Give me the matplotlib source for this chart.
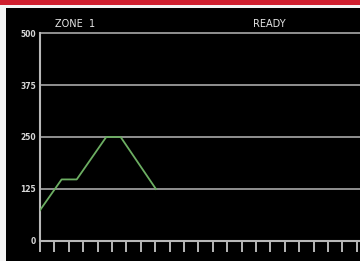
import matplotlib
matplotlib.use("Agg")
import matplotlib.pyplot as plt
from matplotlib.patches import Rectangle

# Data
time_x = [0, 1.5, 2.55, 4.6, 5.6, 8.05]
temp_y = [74, 148, 148, 250, 250, 125]
y_ticks = [0, 125, 250, 375, 500]
x_ticks = list(range(0, 23))
title_left = "ZONE  1"
title_right = "READY"

W, H = 360, 261
fig = plt.figure(figsize=(W / 100, H / 100), dpi=100, facecolor="black")

# frame decorations (red band, white strips)
fig.patches.append(Rectangle((0, 1 - 5 / H), 1, 5 / H, transform=fig.transFigure,
                             facecolor="#d01f2f", edgecolor="none", zorder=0))
fig.patches.append(Rectangle((0, 1 - 7.5 / H), 1, 2.5 / H, transform=fig.transFigure,
                             facecolor="#f4f4f4", edgecolor="none", zorder=0))
fig.patches.append(Rectangle((0, 0), 6 / W, 1 - 5 / H, transform=fig.transFigure,
                             facecolor="#f4f4f4", edgecolor="none", zorder=0))

ax = fig.add_axes([40 / W, (H - 241) / H, 1 - 40 / W, (241 - 33) / H])
ax.set_facecolor("black")
ax.set_xlim(0, (W - 40) / 14.4)
ax.set_ylim(0, 500)

grid_c = "#909090"
for v in y_ticks[1:]:
    ax.axhline(v, color=grid_c, lw=1.4, zorder=1, clip_on=False)

ax.plot(time_x, temp_y, color="#6cae62", lw=1.3, zorder=3)

for s in ["top", "right"]:
    ax.spines[s].set_visible(False)
for s in ["left", "bottom"]:
    ax.spines[s].set_color("#b8b8b8")
    ax.spines[s].set_linewidth(1.5)

ax.set_yticks(y_ticks)
ax.set_yticklabels([str(v) for v in y_ticks], fontweight="semibold")
ax.tick_params(axis="y", length=0, pad=3, labelsize=5.5, labelcolor="#d8d8d8")

ax.set_xticks(x_ticks)
ax.set_xticklabels([])
ax.tick_params(axis="x", direction="out", length=8, width=1.4, color="#b8b8b8")
# longer ticks every 5
ax.set_xticks([0, 5, 10, 15, 20], minor=True)
ax.tick_params(axis="x", which="minor", direction="out", length=11, width=1.4, color="#b8b8b8")

fig.text(55 / W, 1 - 24 / H, title_left, color="#e6e6e6", fontsize=7,
         ha="left", va="center")
fig.text(253 / W, 1 - 24 / H, title_right, color="#e6e6e6", fontsize=7,
         ha="left", va="center")

fig.savefig("out.png", dpi=100, facecolor="black")
